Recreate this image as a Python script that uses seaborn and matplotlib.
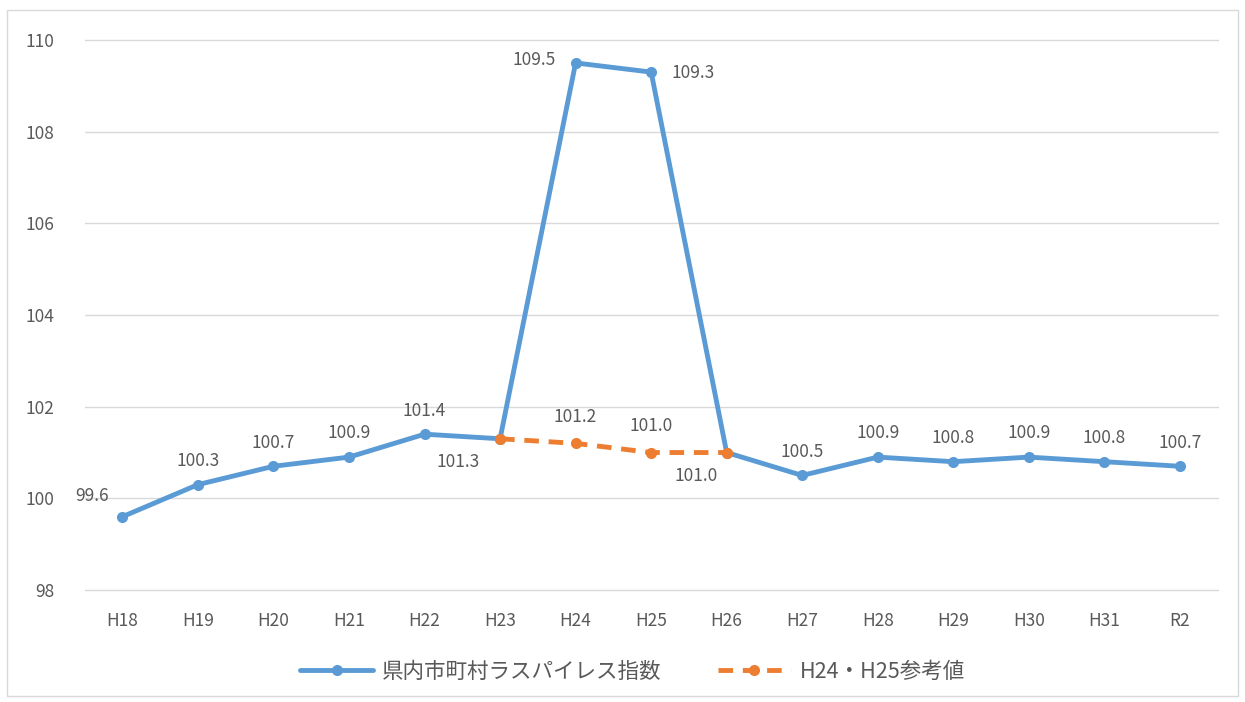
import matplotlib.pyplot as plt
import seaborn as sns
import numpy as np
import pandas as pd
from matplotlib.patches import Rectangle
from matplotlib.lines import Line2D

years = ['H18', 'H19', 'H20', 'H21', 'H22', 'H23', 'H24', 'H25',
         'H26', 'H27', 'H28', 'H29', 'H30', 'H31', 'R2']
laspeyres = [99.6, 100.3, 100.7, 100.9, 101.4, 101.3, 109.5, 109.3,
             101.0, 100.5, 100.9, 100.8, 100.9, 100.8, 100.7]
ref_years = ['H23', 'H24', 'H25', 'H26']
ref_values = [101.3, 101.2, 101.0, 101.0]

name_main = '県内市町村ラスパイレス指数'
name_ref = 'H24・H25参考値'

BLUE = '#5B9BD5'
ORANGE = '#ED7D31'
TEXT = '#595959'

sns.set_style('white')
plt.rcParams['font.family'] = ['Noto Sans CJK JP', 'DejaVu Sans']

pos = {y: i for i, y in enumerate(years)}
df_main = pd.DataFrame({'x': [pos[y] for y in years], 'v': laspeyres})
df_ref = pd.DataFrame({'x': [pos[y] for y in ref_years], 'v': ref_values})

fig = plt.figure(figsize=(12.45, 7.02), dpi=100)
ax = fig.add_axes([0.068, 0.1595, 0.91, 0.7835])

LW = 3.5
MS = 8
DASH = (0, (3, 2))

sns.lineplot(data=df_main, x='x', y='v', ax=ax, color=BLUE, linewidth=LW,
             marker='o', markersize=MS, markeredgewidth=0, zorder=3)
sns.lineplot(data=df_ref, x='x', y='v', ax=ax, color=ORANGE, linewidth=LW,
             linestyle=DASH, marker='o', markersize=MS,
             markeredgewidth=0, zorder=4)

ax.set_xlim(-0.5, len(years) - 0.5)
ax.set_ylim(98, 110)
ax.set_yticks(np.arange(98, 111, 2))
ax.set_xticks(range(len(years)))
ax.set_xticklabels(years)
ax.yaxis.grid(True, color='#d9d9d9', linewidth=1)
ax.xaxis.grid(False)
for g in ax.yaxis.get_gridlines():
    g.set_clip_on(False)
for s in ax.spines.values():
    s.set_visible(False)
ax.tick_params(axis='both', length=0, labelsize=12.5, colors=TEXT, pad=16)
ax.tick_params(axis='y', pad=22)
ax.set_xlabel('')
ax.set_ylabel('')

# data labels (offsets in points)
offsets = {
    'H18': (-22, 15), 'H23': (-30, -17), 'H24': (-30, 2), 'H25': (30, -1),
    'H26': (-22, -17),
}
for y, v in zip(years, laspeyres):
    dx, dy = offsets.get(y, (0, 17))
    ax.annotate(f'{v:.1f}', (pos[y], v), xytext=(dx, dy),
                textcoords='offset points', ha='center', va='center',
                fontsize=12.5, color=TEXT)
for y, v in zip(ref_years[1:3], ref_values[1:3]):
    ax.annotate(f'{v:.1f}', (pos[y], v), xytext=(0, 19),
                textcoords='offset points', ha='center', va='center',
                fontsize=12.5, color=TEXT)

handles = [
    Line2D([], [], color=BLUE, linewidth=LW, marker='o', markersize=MS,
           markeredgewidth=0),
    Line2D([], [], color=ORANGE, linewidth=LW, linestyle=DASH,
           marker='o', markersize=MS, markeredgewidth=0),
]
fig.legend(handles, [name_main, name_ref], loc='center',
           bbox_to_anchor=(0.508, 0.043), ncol=2, frameon=False,
           fontsize=15.5, labelcolor=TEXT, handlelength=3.4,
           columnspacing=2.6, handletextpad=0.4)

fig.patches.append(Rectangle((0.006, 0.008), 0.988, 0.978,
                             transform=fig.transFigure, fill=False,
                             edgecolor='#d9d9d9', linewidth=1))

plt.savefig('out.png', dpi=100)
